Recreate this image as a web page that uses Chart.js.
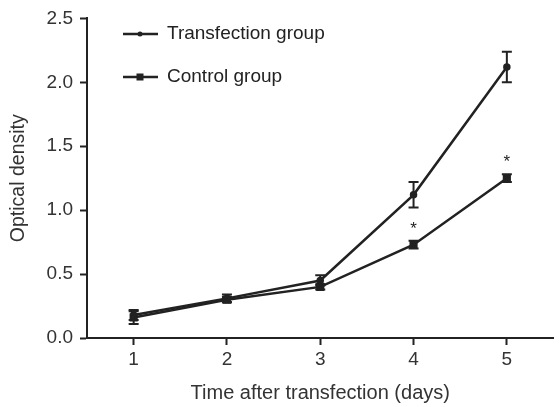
<!DOCTYPE html>
<html lang="en">
<head>
<meta charset="UTF-8">
<title>Optical density</title>
<style>
  body { margin: 0; background: #fff; }
  #chart { display: block; }
</style>
</head>
<body>
<canvas id="chart" width="560" height="407"></canvas>
<script src="https://cdn.jsdelivr.net/npm/chart.js"></script>
<script>
// data
const days = [1, 2, 3, 4, 5];
const transfection = [0.18, 0.31, 0.45, 1.12, 2.12];
const transfectionErr = [0.04, 0.03, 0.04, 0.10, 0.12];
const control = [0.16, 0.30, 0.40, 0.73, 1.25];
const controlErr = [0.05, 0.02, 0.02, 0.03, 0.03];
const starDays = [4, 5];
const starValues = [0.87, 1.40];
const yTicks = [0, 0.5, 1.0, 1.5, 2.0, 2.5];

const ink = '#222';
const family = '"Liberation Sans", Arial, sans-serif';

// error bars, asterisks and the legend inside the plot
const extras = {
  id: 'extras',
  afterDatasetsDraw(chart) {
    const ctx = chart.ctx;
    const xs = chart.scales.x, ys = chart.scales.y;
    ctx.save();
    ctx.strokeStyle = ink;
    ctx.lineWidth = 2;
    const bars = [[transfection, transfectionErr], [control, controlErr]];
    bars.forEach(([vals, errs]) => {
      vals.forEach((v, i) => {
        const x = xs.getPixelForValue(days[i]);
        const top = ys.getPixelForValue(v + errs[i]);
        const bot = ys.getPixelForValue(v - errs[i]);
        ctx.beginPath();
        ctx.moveTo(x, top); ctx.lineTo(x, bot);
        ctx.moveTo(x - 5, top); ctx.lineTo(x + 5, top);
        ctx.moveTo(x - 5, bot); ctx.lineTo(x + 5, bot);
        ctx.stroke();
      });
    });

    ctx.fillStyle = ink;
    ctx.font = '17px ' + family;
    ctx.textAlign = 'center';
    ctx.textBaseline = 'middle';
    starDays.forEach((d, i) => {
      ctx.fillText('*', xs.getPixelForValue(d), ys.getPixelForValue(starValues[i]) + 3);
    });

    // legend
    const items = [['Transfection group', 'circle', 2.5], ['Control group', 'rect', 3.5]];
    ctx.textAlign = 'left';
    ctx.font = '19px ' + family;
    items.forEach(([label, style, r], i) => {
      const y = 34 + i * 43;
      ctx.beginPath();
      ctx.moveTo(123, y); ctx.lineTo(158, y);
      ctx.lineWidth = 2.5;
      ctx.stroke();
      if (style === 'rect') ctx.fillRect(140 - r, y - r, 2 * r, 2 * r);
      else { ctx.beginPath(); ctx.arc(140, y, r, 0, Math.PI * 2); ctx.fill(); }
      ctx.fillText(label, 167, y);
    });
    ctx.restore();
  }
};

new Chart(document.getElementById('chart'), {
  type: 'line',
  data: {
    datasets: [
      {
        label: 'Transfection group',
        data: days.map((d, i) => ({ x: d, y: transfection[i] })),
        borderColor: ink, backgroundColor: ink,
        borderWidth: 2.5, pointStyle: 'circle', pointRadius: 2.5, tension: 0
      },
      {
        label: 'Control group',
        data: days.map((d, i) => ({ x: d, y: control[i] })),
        borderColor: ink, backgroundColor: ink,
        borderWidth: 2.5, pointStyle: 'rect', pointRadius: 4, tension: 0
      }
    ]
  },
  options: {
    responsive: false,
    animation: false,
    layout: { padding: { top: 17, right: 0, left: 0, bottom: 0 } },
    plugins: { legend: { display: false }, tooltip: { enabled: false } },
    scales: {
      x: {
        type: 'linear', min: 0.5, max: 5.5,
        afterBuildTicks: s => { s.ticks = days.map(v => ({ value: v })); },
        afterFit: s => { s.height = 69; },
        ticks: { color: '#333', font: { size: 19, family: family }, padding: 3 },
        grid: { display: true, drawOnChartArea: false, tickLength: 7, tickWidth: 2, tickColor: ink },
        border: { display: true, color: ink, width: 2 },
        title: { display: true, text: 'Time after transfection (days)', color: '#333',
                 font: { size: 20, family: family }, padding: { top: 0, bottom: 2 } }
      },
      y: {
        min: 0, max: 2.5,
        afterBuildTicks: s => { s.ticks = yTicks.map(v => ({ value: v })); },
        afterFit: s => { s.width = 87; },
        ticks: { color: '#333', font: { size: 19, family: family },
                 callback: v => v.toFixed(1), padding: 7 },
        grid: { display: true, drawOnChartArea: false, tickLength: 7, tickWidth: 2, tickColor: ink },
        border: { display: true, color: ink, width: 2 },
        title: { display: true, text: 'Optical density', color: '#333',
                 font: { size: 19.5, family: family }, padding: { top: 7 } }
      }
    }
  },
  plugins: [extras]
});
</script>
</body>
</html>
